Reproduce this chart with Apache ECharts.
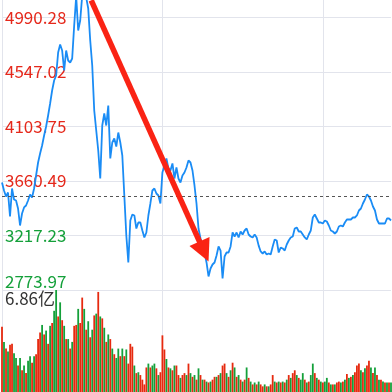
<!DOCTYPE html>
<html><head><meta charset="utf-8">
<script src="https://cdn.jsdelivr.net/npm/echarts@6/dist/echarts.min.js"></script>
<style>html,body{margin:0;padding:0;background:#fff}#c{width:392px;height:392px}</style>
</head><body><div id="c"></div>
<script>
// ---- data ----
const priceTicks = [2773.97, 3217.23, 3660.49, 4103.75, 4547.02, 4990.28];
const priceMin = 2773.97;
const priceMax = 5132.6;
const baseLine = 3534.5;
const volumeMax = 6.86;
const volumeUnit = '亿';
const xTicks = [0, 80, 160];

const price = [
3648.3,3583.3,3534.5,3567.0,3371.8,3599.5,3510.1,3502.0,3436.9,3298.6,
3396.2,3445.1,3461.3,3502.0,3550.8,3526.5,3599.5,3705.3,3811.0,3884.2,
3949.3,4030.6,4103.8,4193.2,4290.9,4396.6,4477.9,4518.6,4705.5,4770.7,
4721.9,4559.2,4721.9,4640.6,4624.3,4656.8,4925.2,5161.1,4884.6,4965.9,
5169.2,5177.3,5152.9,5063.5,4803.2,4599.9,4233.9,4071.2,3908.6,3680.9,
4111.9,4209.5,4111.9,4274.6,3843.5,3973.6,4006.2,3941.1,4054.9,3973.6,
3867.9,3542.6,3217.3,2997.7,3339.3,3388.1,3380.0,3274.2,3323.1,3323.1,
3258.0,3201.1,3241.7,3380.0,3477.6,3583.3,3599.5,3558.9,3542.6,3477.6,
3729.7,3786.6,3843.5,3762.2,3745.9,3802.9,3680.9,3770.3,3680.9,3648.3,
3705.3,3729.7,3770.3,3827.3,3811.0,3745.9,3624.0,3477.6,3274.2,3192.9,
3135.0,3079.0,2997.7,2883.8,2948.8,2981.4,2997.7,3054.6,3127.8,3095.0,
2867.6,3046.5,3079.0,3079.0,3127.8,3241.7,3209.1,3241.7,3201.1,3249.8,
3225.4,3258.0,3274.2,3225.4,3209.1,3201.1,3225.4,3201.1,3135.0,3087.2,
3070.9,3087.2,3062.8,3070.9,3062.8,3127.8,3184.8,3176.6,3079.0,3119.7,
3111.6,3095.0,3144.1,3176.6,3201.1,3209.1,3274.2,3282.3,3249.8,3249.8,
3225.4,3201.1,3184.8,3225.4,3258.0,3363.7,3388.1,3355.6,3323.1,3323.1,
3314.9,3339.3,3331.1,3298.6,3258.0,3249.8,3233.6,3249.8,3290.5,3298.6,
3290.5,3323.1,3347.4,3347.4,3347.4,3363.7,3363.7,3380.0,3420.6,3436.9,
3477.6,3510.1,3550.8,3534.5,3502.0,3453.2,3420.6,3347.4,3314.9,3314.9,
3314.9,3314.9,3355.6,3355.6,3339.3
];

const volume = [
4.38,3.37,2.92,2.73,3.18,3.24,2.60,2.29,1.78,2.29,
1.46,1.78,1.27,2.10,2.41,1.97,2.41,2.54,3.56,4.00,
4.51,3.87,4.13,3.24,4.45,4.64,5.46,6.86,5.08,6.03,
4.83,4.45,3.56,3.56,2.92,3.37,4.45,4.51,5.59,4.64,
6.35,5.59,4.19,4.76,3.68,4.19,5.15,5.27,6.73,5.08,
4.95,4.32,3.37,3.87,3.56,2.92,2.54,2.29,2.92,2.41,
2.92,2.41,2.86,1.91,3.24,3.05,1.78,1.27,1.33,1.14,
0.83,0.51,1.65,1.91,1.65,1.78,1.91,1.59,1.14,1.33,
3.81,2.86,2.22,1.65,1.59,1.46,1.78,1.78,1.14,0.95,
1.14,1.27,1.14,1.91,1.27,1.02,1.14,0.83,1.59,1.14,
0.83,0.83,0.70,0.64,0.70,0.83,1.02,1.02,1.14,1.27,
1.78,1.91,1.27,1.02,1.46,1.97,1.65,1.02,1.14,0.83,
0.70,0.83,1.65,0.95,0.70,0.51,0.64,0.51,0.70,0.51,
0.38,0.51,0.38,0.38,0.51,1.14,0.70,0.64,0.70,0.64,
0.70,0.64,0.83,1.14,0.95,1.27,1.46,1.14,0.95,0.83,
1.27,0.83,0.64,0.70,1.14,1.91,1.27,0.95,0.83,0.70,
0.64,0.70,0.95,0.64,0.51,0.51,0.51,0.64,0.70,0.64,
0.70,0.83,1.21,0.95,1.02,1.14,1.33,1.78,1.91,1.46,
1.33,1.59,1.78,2.10,1.65,1.27,1.65,1.14,0.83,0.83,
0.70,0.64,0.64,0.64,0.64
];

// 1 = up (red), 0 = down (green)
const volumeUp = [
1,0,1,0,1,1,0,0,1,0, 1,0,1,0,0,1,0,1,1,1,
0,1,0,1,0,1,0,0,1,0, 1,0,1,0,1,0,1,1,0,1,
1,0,1,0,1,0,1,0,1,0, 1,0,1,0,1,0,1,0,0,1,
0,1,0,1,1,1,0,1,0,1, 1,1,1,0,1,0,0,1,0,1,
1,1,0,1,0,1,0,1,1,0, 1,1,0,1,0,1,0,1,0,1,
0,1,0,1,0,1,1,0,1,0, 1,1,0,1,0,1,0,1,0,1,
0,1,0,1,0,1,0,1,0,1, 1,0,1,0,1,1,0,1,0,1,
0,1,0,1,0,1,1,0,1,0, 0,1,0,1,0,0,1,0,1,0,
1,0,0,1,0,1,0,1,1,0, 1,0,1,0,1,0,1,1,1,0,
1,0,1,1,0,1,0,1,0,1, 0,1,0,1,0
];

const arrowFrom = [44.5, 5130];
const arrowTo = [100.75, 3087];

// ---- chart ----
const RED = '#e6290f', GREEN = '#14a03a', GRID = '#e2e4ec';
const FONT = '"Noto Sans CJK SC","Noto Sans",sans-serif';
const chart = echarts.init(document.getElementById('c'), null, {renderer: 'canvas'});
const N = price.length;

const xAxisCommon = {
  type: 'value', min: 0, max: N - 1,
  axisLine: {show: false}, axisLabel: {show: false},
  axisTick: {show: false, customValues: xTicks},
  splitLine: {show: true, lineStyle: {color: GRID, width: 1}}
};

chart.setOption({
  animation: false,
  backgroundColor: '#fff',
  grid: [
    {left: 2, right: 1, top: 0, bottom: 102},
    {left: 2, right: 1, top: 290, bottom: -6}
  ],
  xAxis: [
    Object.assign({gridIndex: 0}, xAxisCommon),
    Object.assign({gridIndex: 1}, xAxisCommon)
  ],
  yAxis: [
    {
      gridIndex: 0, type: 'value', min: priceMin, max: priceMax,
      axisLine: {show: false},
      axisTick: {show: false, customValues: priceTicks},
      axisLabel: {
        inside: true, margin: 3, customValues: priceTicks,
        fontSize: 17, fontFamily: FONT,
        formatter: v => v.toFixed(2),
        color: v => (v >= baseLine ? '#e5281b' : GREEN),
        verticalAlignMinLabel: 'bottom'
      },
      splitLine: {show: true, lineStyle: {color: GRID, width: 1}}
    },
    {
      gridIndex: 1, type: 'value', min: 0, max: volumeMax,
      axisLine: {show: false},
      axisTick: {show: false, customValues: [volumeMax]},
      axisLabel: {
        inside: true, margin: 3, customValues: [volumeMax],
        fontSize: 17, fontFamily: FONT, color: '#333',
        formatter: v => v.toFixed(2) + volumeUnit,
        verticalAlign: 'top'
      },
      splitLine: {show: false}
    }
  ],
  series: [
    {
      type: 'bar', xAxisIndex: 1, yAxisIndex: 1,
      barWidth: 1.8,
      data: volume.map((v, i) => ({
        value: [i, v],
        itemStyle: {color: volumeUp[i] ? RED : GREEN}
      }))
    },
    {
      type: 'line', xAxisIndex: 0, yAxisIndex: 0,
      data: price.map((v, i) => [i, v]),
      showSymbol: false, symbol: 'none', clip: true,
      lineStyle: {color: '#1a8cf5', width: 1.8},
      markLine: {
        silent: true, animation: false,
        data: [
          [{coord: [0, baseLine], symbol: 'none'},
           {coord: [N - 1, baseLine], symbol: 'none'}],
          [{coord: arrowFrom, symbol: 'none',
            lineStyle: {color: '#fa2314', width: 5.5, type: 'solid'}},
           {coord: arrowTo, symbol: 'triangle', symbolSize: [22, 22],
            lineStyle: {color: '#fa2314', width: 5.5, type: 'solid'}}]
        ],
        label: {show: false},
        lineStyle: {color: '#555', width: 1, type: [3, 3]}
      },
      z: 3
    }
  ]
});
</script></body></html>
